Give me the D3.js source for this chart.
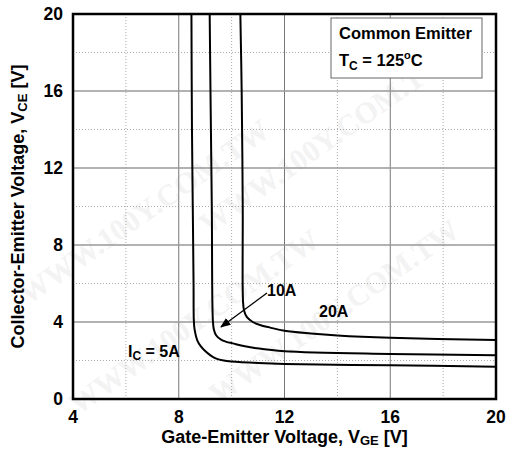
<!DOCTYPE html>
<html>
<head>
<meta charset="utf-8">
<script src="https://cdn.jsdelivr.net/npm/d3@7"></script>
<style>
  body { margin: 0; background: #fff; }
  svg text { font-family: "Liberation Sans", Arial, sans-serif; font-weight: bold; fill: #000; }
</style>
</head>
<body>
<svg id="chart" width="508" height="449"></svg>
<script>
// Collector current series: [V_GE, V_CE] pairs
const ic5 = [[8.48,20],[8.5,14],[8.53,10],[8.56,6],[8.57,4.1],[8.6,3.6],[8.7,3.05],[8.83,2.75],[8.98,2.52],[9.2,2.27],[9.42,2.1],[9.7,2.0],[10,1.95],[11,1.87],[12,1.82],[16,1.75],[20,1.68]];
const ic10 = [[9.17,20],[9.2,16],[9.25,10],[9.29,4.1],[9.33,3.6],[9.42,3.3],[9.6,3.08],[9.8,2.97],[10.04,2.89],[10.5,2.74],[10.93,2.64],[12,2.48],[16,2.34],[20,2.27]];
const ic20 = [[10.33,20],[10.38,16],[10.42,10],[10.43,5.1],[10.47,4.6],[10.58,4.25],[10.8,4.0],[11.1,3.83],[11.43,3.72],[12,3.54],[13,3.4],[14,3.3],[16,3.18],[20,3.06]];
const series = [ic5, ic10, ic20];

const xTicks = [4, 8, 12, 16, 20];
const yTicks = [0, 4, 8, 12, 16, 20];
const xMinor = [6, 10, 14, 18];
const yMinor = [2, 6, 10, 14, 18];

const svg = d3.select("#chart");
const margin = {left: 73, right: 12, top: 14, bottom: 50};
const W = 508, H = 449;

const x = d3.scaleLinear().domain([4, 20]).range([margin.left, W - margin.right]);
const y = d3.scaleLinear().domain([0, 20]).range([H - margin.bottom, margin.top]);

// faint watermark
const wm = svg.append("g");
[[150, 220], [330, 150], [340, 320], [200, 330]].forEach(p => {
    wm.append("text")
        .attr("transform", `translate(${p[0]},${p[1]}) rotate(-35)`)
        .attr("text-anchor", "middle")
        .style("font-family", "Liberation Serif, serif")
        .style("font-size", "30px")
        .style("fill", "#f3f3f3")
        .text("WWW.100Y.COM.TW");
});

// minor dotted grid
const g = svg.append("g");
g.selectAll(".vminor").data(xMinor).enter().append("line")
    .attr("x1", d => x(d)).attr("x2", d => x(d))
    .attr("y1", y(20)).attr("y2", y(0))
    .style("stroke", "#aaa").style("stroke-width", 1).style("stroke-dasharray", "1,2");
g.selectAll(".hminor").data(yMinor).enter().append("line")
    .attr("x1", x(4)).attr("x2", x(20))
    .attr("y1", d => y(d)).attr("y2", d => y(d))
    .style("stroke", "#aaa").style("stroke-width", 1).style("stroke-dasharray", "1,2");

// major solid grid
g.selectAll(".vmajor").data(xTicks.slice(1, -1)).enter().append("line")
    .attr("x1", d => x(d)).attr("x2", d => x(d))
    .attr("y1", y(20)).attr("y2", y(0))
    .style("stroke", "#777").style("stroke-width", 1);
g.selectAll(".hmajor").data(yTicks.slice(1, -1)).enter().append("line")
    .attr("x1", x(4)).attr("x2", x(20))
    .attr("y1", d => y(d)).attr("y2", d => y(d))
    .style("stroke", "#999").style("stroke-width", 1.5);

// curves
const line = d3.line()
    .x(d => x(d[0]))
    .y(d => y(d[1]))
    .curve(d3.curveCatmullRom.alpha(0.5));

svg.selectAll(".curve").data(series).enter().append("path")
    .attr("d", line)
    .style("fill", "none")
    .style("stroke", "#000")
    .style("stroke-width", 2);

// frame
svg.append("rect")
    .attr("x", x(4)).attr("y", y(20))
    .attr("width", x(20) - x(4)).attr("height", y(0) - y(20))
    .style("fill", "none").style("stroke", "#000").style("stroke-width", 2.5);

// tick labels
svg.selectAll(".xt").data(xTicks).enter().append("text")
    .attr("x", d => x(d)).attr("y", y(0) + 24)
    .attr("text-anchor", "middle")
    .style("font-size", "17.5px")
    .text(d => d);
svg.selectAll(".yt").data(yTicks).enter().append("text")
    .attr("x", x(4) - 10).attr("y", d => y(d) + 6)
    .attr("text-anchor", "end")
    .style("font-size", "17.5px")
    .text(d => d);

// axis titles
const xt = svg.append("text")
    .attr("x", (x(4) + x(20)) / 2).attr("y", 443)
    .attr("text-anchor", "middle")
    .style("font-size", "18px");
xt.append("tspan").text("Gate-Emitter Voltage, V");
xt.append("tspan").attr("dy", 2).style("font-size", "13px").text("GE");
xt.append("tspan").attr("dy", -2).text(" [V]");

const yt = svg.append("text")
    .attr("transform", `translate(24,${(y(0) + y(20)) / 2}) rotate(-90)`)
    .attr("text-anchor", "middle")
    .style("font-size", "18px");
yt.append("tspan").text("Collector-Emitter Voltage, V");
yt.append("tspan").attr("dy", 3).style("font-size", "13px").text("CE");
yt.append("tspan").attr("dy", -3).text(" [V]");

// legend box
svg.append("rect")
    .attr("x", 331).attr("y", 18).attr("width", 151).attr("height", 60)
    .style("fill", "#fff").style("stroke", "#666").style("stroke-width", 1);
svg.append("text").attr("x", 339).attr("y", 39).style("font-size", "16.5px").text("Common Emitter");
const tc = svg.append("text").attr("x", 339).attr("y", 66).style("font-size", "16.5px");
tc.append("tspan").text("T");
tc.append("tspan").attr("dy", 4).style("font-size", "12px").text("C");
tc.append("tspan").attr("dy", -4).text(" = 125");
tc.append("tspan").attr("dy", -7).style("font-size", "11px").text("o");
tc.append("tspan").attr("dy", 7).text("C");

// curve labels
const l5 = svg.append("text").attr("x", 128).attr("y", 357).style("font-size", "16px");
l5.append("tspan").text("I");
l5.append("tspan").attr("dy", 3).style("font-size", "12px").text("C");
l5.append("tspan").attr("dy", -3).text(" = 5A");

svg.append("text").attr("x", 267).attr("y", 296).style("font-size", "16px").text("10A");
svg.append("text").attr("x", 319).attr("y", 317).style("font-size", "16px").text("20A");

// arrow from 10A label to its curve
svg.append("defs").append("marker")
    .attr("id", "ah").attr("viewBox", "0 0 10 10")
    .attr("refX", 9).attr("refY", 5)
    .attr("markerWidth", 8).attr("markerHeight", 8)
    .attr("orient", "auto")
    .append("path").attr("d", "M0,1 L10,5 L0,9 z").style("fill", "#000");
svg.append("line")
    .attr("x1", 267).attr("y1", 293).attr("x2", 221).attr("y2", 327)
    .style("stroke", "#000").style("stroke-width", 1.3)
    .attr("marker-end", "url(#ah)");
</script>
</body>
</html>
